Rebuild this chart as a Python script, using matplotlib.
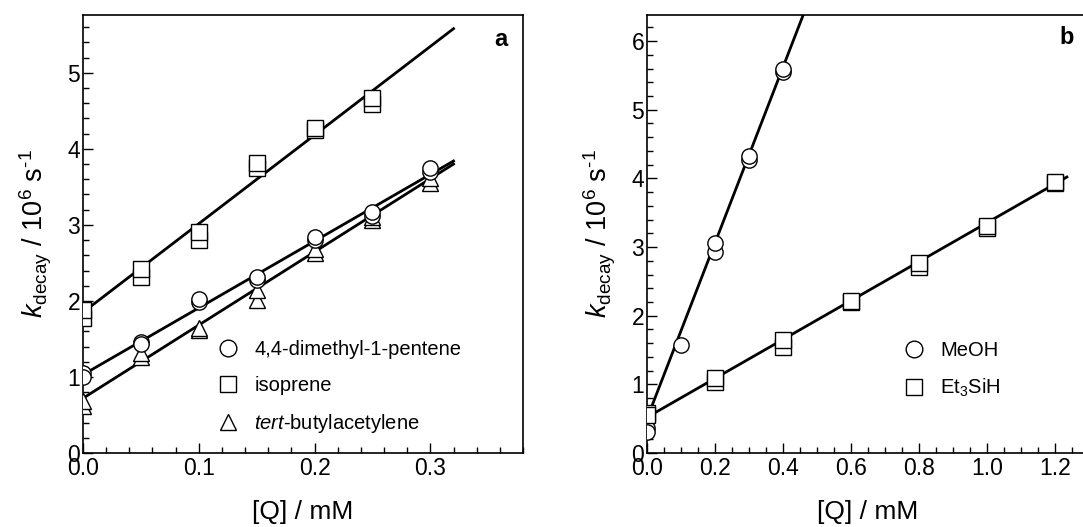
import matplotlib
matplotlib.use("Agg")
import matplotlib.pyplot as plt
from matplotlib.lines import Line2D
import numpy as np

plt.rcParams['font.family'] = ['Liberation Sans', 'DejaVu Sans']
plt.rcParams['mathtext.fontset'] = 'custom'
plt.rcParams['mathtext.rm'] = 'Liberation Sans'
plt.rcParams['mathtext.it'] = 'Liberation Sans:italic'
plt.rcParams['mathtext.bf'] = 'Liberation Sans:bold'

# ---------------- Panel a data ----------------
dmp_x = [0.0, 0.0, 0.05, 0.05, 0.10, 0.10, 0.15, 0.15, 0.20, 0.20, 0.25, 0.25, 0.30, 0.30]
dmp_y = [1.05, 1.00, 1.46, 1.44, 1.99, 2.02, 2.28, 2.31, 2.80, 2.84, 3.12, 3.17, 3.70, 3.75]
iso_x = [0.0, 0.0, 0.05, 0.05, 0.10, 0.10, 0.15, 0.15, 0.20, 0.20, 0.25, 0.25]
iso_y = [1.78, 1.88, 2.32, 2.42, 2.80, 2.91, 3.75, 3.82, 4.25, 4.28, 4.59, 4.67]
tba_x = [0.0, 0.0, 0.05, 0.05, 0.10, 0.10, 0.15, 0.15, 0.20, 0.20, 0.25, 0.25, 0.30, 0.30]
tba_y = [0.62, 0.68, 1.26, 1.32, 1.62, 1.64, 2.01, 2.14, 2.63, 2.68, 3.07, 3.10, 3.55, 3.62]

fit_a_x = [0.0, 0.32]
dmp_fit = [1.03, 3.84]
iso_fit = [1.85, 5.58]
tba_fit = [0.72, 3.80]

# ---------------- Panel b data ----------------
meoh_x = [0.0, 0.0, 0.1, 0.2, 0.2, 0.3, 0.3, 0.4, 0.4]
meoh_y = [0.36, 0.31, 1.57, 2.93, 3.06, 4.27, 4.32, 5.55, 5.60]
silane_x = [0.0, 0.0, 0.2, 0.2, 0.4, 0.4, 0.6, 0.6, 0.8, 0.8, 1.0, 1.0, 1.2, 1.2]
silane_y = [0.58, 0.55, 1.04, 1.09, 1.55, 1.65, 2.20, 2.21, 2.71, 2.77, 3.28, 3.30, 3.93, 3.95]

meoh_fit_x = [0.0, 0.5]
meoh_fit = [0.50, 6.90]
silane_fit_x = [0.0, 1.235]
silane_fit = [0.52, 4.02]

W, H = 1083, 527
fig = plt.figure(figsize=(W / 100, H / 100), dpi=100)

ax_a = fig.add_axes([83 / W, (H - 453) / H, 440 / W, 438 / H])
ax_b = fig.add_axes([647 / W, (H - 453) / H, 442 / W, 438 / H])

mk = dict(markerfacecolor='white', markeredgecolor='black', markeredgewidth=1.0,
          linestyle='none', color='black')
lw = 2.0

# Panel a
ax_a.plot(fit_a_x, iso_fit, color='black', lw=lw, zorder=2)
ax_a.plot(fit_a_x, dmp_fit, color='black', lw=lw, zorder=2)
ax_a.plot(fit_a_x, tba_fit, color='black', lw=lw, zorder=2)
ax_a.plot(tba_x, tba_y, marker='^', markersize=11, zorder=3, **mk)
ax_a.plot(dmp_x, dmp_y, marker='o', markersize=11, zorder=4, **mk)
ax_a.plot(iso_x, iso_y, marker='s', markersize=11, zorder=3, **mk)

ax_a.set_xlim(0, 0.38)
ax_a.set_ylim(0, 5.76)
ax_a.set_xticks([0.0, 0.1, 0.2, 0.3])
ax_a.set_xticklabels(['0.0', '0.1', '0.2', '0.3'])
ax_a.set_xticks(np.arange(0, 0.381, 0.02), minor=True)
ax_a.set_yticks([0, 1, 2, 3, 4, 5])
ax_a.set_yticks(np.arange(0, 5.76, 0.2), minor=True)

# Panel b
ax_b.plot(meoh_fit_x, meoh_fit, color='black', lw=lw, zorder=2)
ax_b.plot(silane_fit_x, silane_fit, color='black', lw=lw, zorder=2)
ax_b.plot(meoh_x, meoh_y, marker='o', markersize=11, zorder=3, **mk)
ax_b.plot(silane_x, silane_y, marker='s', markersize=11, zorder=4, **mk)

ax_b.set_xlim(0, 1.3)
ax_b.set_ylim(0, 6.38)
ax_b.set_xticks([0.0, 0.2, 0.4, 0.6, 0.8, 1.0, 1.2])
ax_b.set_xticklabels(['0.0', '0.2', '0.4', '0.6', '0.8', '1.0', '1.2'])
ax_b.set_xticks(np.arange(0, 1.301, 0.05), minor=True)
ax_b.set_yticks([0, 1, 2, 3, 4, 5, 6])
ax_b.set_yticks(np.arange(0, 6.38, 0.2), minor=True)

ylabel = '$k_{\\mathrm{decay}}$ / 10$^6$ s$^{\\mathrm{\u2010}1}$'
for ax in (ax_a, ax_b):
    ax.tick_params(which='both', direction='in', top=False, right=False,
                   labelsize=16.5, width=1.0, pad=3)
    ax.tick_params(which='major', length=7)
    ax.tick_params(which='minor', length=4)
    for s in ax.spines.values():
        s.set_linewidth(1.2)
    ax.set_xlabel('[Q] / mM', fontsize=19, labelpad=14)
    ax.set_ylabel(ylabel, fontsize=19.5, labelpad=10)

ax_a.tick_params(axis='y', pad=2)
ax_b.tick_params(axis='y', pad=2)

# Legends
h_dmp = Line2D([], [], marker='o', markersize=12, **mk)
h_iso = Line2D([], [], marker='s', markersize=12, **mk)
h_tba = Line2D([], [], marker='^', markersize=12, **mk)
ax_a.legend([h_dmp, h_iso, h_tba],
            ['4,4-dimethyl-1-pentene', 'isoprene', r'$\mathit{tert}$-butylacetylene'],
            loc='upper left', bbox_to_anchor=((218 - 83) / 440, (453 - 340) / 438),
            frameon=False, fontsize=14.5, handlelength=1.0, handletextpad=0.8,
            labelspacing=0.85, borderpad=0, borderaxespad=0)

h_meoh = Line2D([], [], marker='o', markersize=12, **mk)
h_sil = Line2D([], [], marker='s', markersize=12, **mk)
ax_b.legend([h_meoh, h_sil], ['MeOH', r'Et$_3$SiH'],
            loc='upper left', bbox_to_anchor=((904 - 647) / 442, (453 - 341) / 438),
            frameon=False, fontsize=14.5, handlelength=1.0, handletextpad=0.8,
            labelspacing=0.85, borderpad=0, borderaxespad=0)

fig.text(501 / W, 1 - 40 / H, 'a', fontsize=17, fontweight='bold', ha='center', va='center')
fig.text(1067 / W, 1 - 38 / H, 'b', fontsize=17, fontweight='bold', ha='center', va='center')

fig.savefig('out.png', dpi=100)
